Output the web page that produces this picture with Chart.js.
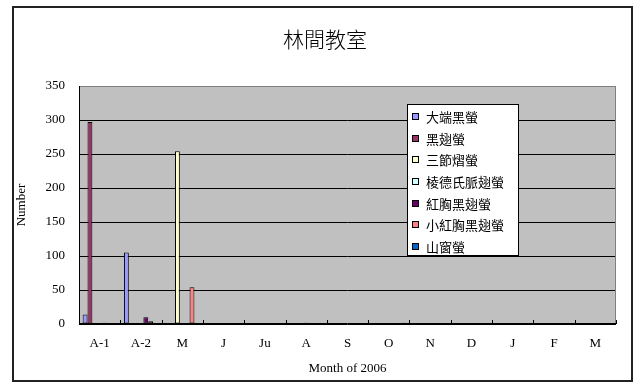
<!DOCTYPE html>
<html>
<head>
<meta charset="utf-8">
<title>林間教室</title>
<script src="https://cdn.jsdelivr.net/npm/chart.js@4/dist/chart.umd.min.js"></script>
<style>
  html, body { margin: 0; padding: 0; background: #ffffff; }
  #wrap { width: 635px; height: 388px; position: relative; }
</style>
</head>
<body>
<div id="wrap"><canvas id="c" width="635" height="388"></canvas></div>
<script>
// Survey months (2006)
const months = ['A-1', 'A-2', 'M', 'J', 'Ju', 'A', 'S', 'O', 'N', 'D', 'J', 'F', 'M'];

// Firefly counts per species, one value per month
const daduanHei      = [14, 105, 0, 0, 0, 0, 0, 0, 0, 0, 0, 0, 0];   // 大端黑螢
const heiChi         = [297, 0, 0, 0, 0, 0, 0, 0, 0, 0, 0, 0, 0];   // 黑翅螢
const sanJieYi       = [0, 0, 254, 0, 0, 0, 0, 0, 0, 0, 0, 0, 0];   // 三節熠螢
const lengDeShi      = [0, 0, 0, 0, 0, 2, 0, 0, 0, 0, 0, 0, 0];     // 棱德氏脈翅螢
const hongXiongHei   = [2, 10, 0, 0, 0, 0, 0, 0, 0, 0, 0, 0, 0];    // 紅胸黑翅螢
const xiaoHongXiong  = [0, 4, 54, 0, 0, 0, 0, 0, 0, 0, 0, 0, 0];    // 小紅胸黑翅螢
const shanChuang     = [0, 0, 0, 0, 0, 0, 0, 2, 0, 0, 0, 0, 0];     // 山窗螢

const speciesNames = ['大端黑螢', '黑翅螢', '三節熠螢', '棱德氏脈翅螢', '紅胸黑翅螢', '小紅胸黑翅螢', '山窗螢'];
const speciesColors = ['#9999FF', '#993366', '#FFFFCC', '#CCFFFF', '#660066', '#FF8080', '#0066CC'];
const speciesData = [daduanHei, heiChi, sanJieYi, lengDeShi, hongXiongHei, xiaoHongXiong, shanChuang];

const yTicks = [0, 50, 100, 150, 200, 250, 300, 350];

const serif = '"Liberation Serif", "Times New Roman", serif';
const cjk = '"Noto Sans CJK TC", "Noto Sans CJK SC", sans-serif';

// Outer frame, grey plot background and the title
const framePlugin = {
  id: 'frame',
  beforeDraw(chart) {
    const { ctx, chartArea: a } = chart;
    ctx.save();
    ctx.fillStyle = '#ffffff';
    ctx.fillRect(0, 0, chart.width, chart.height);
    ctx.strokeStyle = '#222222';
    ctx.lineWidth = 2;
    ctx.strokeRect(13, 7, 619, 374);
    ctx.fillStyle = '#C0C0C0';
    ctx.fillRect(a.left, a.top, a.right - a.left, a.bottom - a.top);
    ctx.fillStyle = '#000000';
    ctx.font = '300 21px ' + cjk;
    ctx.textAlign = 'center';
    ctx.textBaseline = 'middle';
    ctx.fillText('林間教室', 325, 39);
    ctx.restore();
  },
  afterDatasetsDraw(chart) {
    const { ctx, chartArea: a } = chart;
    const x = chart.scales.x;
    ctx.save();
    // plot border: grey top/right, black axes
    ctx.lineWidth = 1;
    ctx.strokeStyle = '#808080';
    ctx.beginPath();
    ctx.moveTo(a.left, a.top + 0.5);
    ctx.lineTo(a.right - 0.5, a.top + 0.5);
    ctx.lineTo(a.right - 0.5, a.bottom);
    ctx.stroke();
    ctx.strokeStyle = '#000000';
    ctx.beginPath();
    ctx.moveTo(a.left + 0.5, a.top);
    ctx.lineTo(a.left + 0.5, a.bottom - 0.5);
    ctx.lineTo(a.right, a.bottom - 0.5);
    ctx.stroke();
    // inside tick marks on category boundaries
    const n = chart.data.labels.length;
    const step = (x.getPixelForValue(1) - x.getPixelForValue(0));
    ctx.beginPath();
    for (let i = 0; i <= n; i++) {
      const px = Math.round(x.getPixelForValue(0) - step / 2 + i * step) + 0.5;
      ctx.moveTo(px, a.bottom);
      ctx.lineTo(px, a.bottom - 4);
    }
    ctx.stroke();
    ctx.restore();
  },
  afterDraw(chart) {
    // legend box
    const { ctx } = chart;
    ctx.save();
    ctx.fillStyle = '#ffffff';
    ctx.fillRect(407, 104, 111, 151);
    ctx.strokeStyle = '#000000';
    ctx.lineWidth = 1;
    ctx.strokeRect(407.5, 104.5, 111, 151);
    ctx.font = '13px ' + cjk;
    ctx.textAlign = 'left';
    ctx.textBaseline = 'middle';
    chart.data.datasets.forEach((ds, i) => {
      const cy = 117 + i * 21.67;
      ctx.fillStyle = ds.backgroundColor;
      ctx.fillRect(412.5, Math.round(cy) - 3.5, 6, 6);
      ctx.strokeStyle = '#000000';
      ctx.strokeRect(412.5, Math.round(cy) - 3.5, 6, 6);
      ctx.fillStyle = '#000000';
      ctx.fillText(ds.label, 426, cy);
    });
    ctx.restore();
  }
};

new Chart(document.getElementById('c'), {
  type: 'bar',
  data: {
    labels: months,
    datasets: speciesNames.map((name, i) => ({
      label: name,
      data: speciesData[i],
      backgroundColor: speciesColors[i],
      borderColor: '#000000',
      borderWidth: 1,
      borderSkipped: false,
      categoryPercentage: 7 / 8.5,
      barPercentage: 1
    }))
  },
  options: {
    responsive: false,
    animation: false,
    devicePixelRatio: 1,
    layout: { padding: { left: 0, right: 19, top: 86, bottom: 0 } },
    plugins: {
      legend: { display: false },
      title: { display: false },
      tooltip: { enabled: false }
    },
    scales: {
      x: {
        grid: { display: false, drawTicks: false },
        border: { display: false },
        ticks: {
          color: '#000000',
          font: { family: serif, size: 13 },
          padding: 12,
          maxRotation: 0,
          autoSkip: false
        },
        title: {
          display: true,
          text: 'Month of 2006',
          color: '#000000',
          font: { family: serif, size: 13 },
          padding: { top: 0, bottom: 12 }
        },
        afterFit(scale) { scale.height = 64; }
      },
      y: {
        min: 0,
        max: 350,
        afterBuildTicks(scale) { scale.ticks = yTicks.map(v => ({ value: v })); },
        grid: {
          drawTicks: false,
          color: (c) => (c.tick && c.tick.value === 350 ? '#808080' : '#000000'),
          lineWidth: 1
        },
        border: { display: false },
        ticks: {
          color: '#000000',
          font: { family: serif, size: 13 },
          padding: 14
        },
        title: {
          display: true,
          text: 'Number',
          color: '#000000',
          font: { family: serif, size: 13 },
          padding: { top: 14, bottom: 0 }
        },
        afterFit(scale) { scale.width = 79; }
      }
    }
  },
  plugins: [framePlugin]
});
</script>
</body>
</html>
